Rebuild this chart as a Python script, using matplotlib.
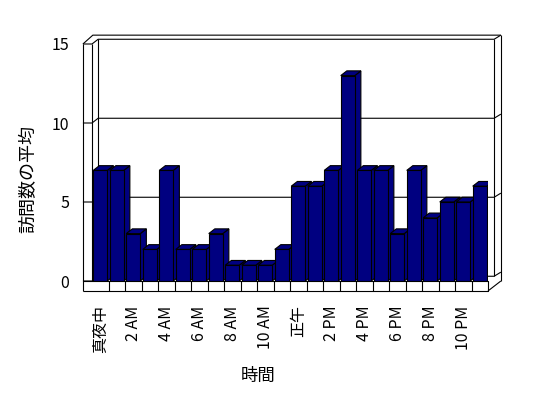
import numpy as np
import matplotlib
matplotlib.use("Agg")
import matplotlib.pyplot as plt
from matplotlib.patches import Polygon

plt.rcParams['font.family'] = ['Noto Sans CJK JP', 'DejaVu Sans']

# data
hours = ["真夜中", "1 AM", "2 AM", "3 AM", "4 AM", "5 AM", "6 AM", "7 AM",
         "8 AM", "9 AM", "10 AM", "11 AM", "正午", "1 PM", "2 PM", "3 PM",
         "4 PM", "5 PM", "6 PM", "7 PM", "8 PM", "9 PM", "10 PM", "11 PM"]
visits = [7, 7, 3, 2, 7, 2, 2, 3, 1, 1, 1, 2,
          6, 6, 7, 13, 7, 7, 3, 7, 4, 5, 5, 6]
y_ticks = [0, 5, 10, 15]

navy = "#000080"
lw = 0.8

fig = plt.figure(figsize=(5.48, 3.98), dpi=100)
ax = fig.add_axes([92/548, 1 - 281/398, 396/548, 237/398])
n = len(visits)
x = np.arange(n)
x0, x1 = -0.5, n - 0.5
ymax = y_ticks[-1]
ax.set_xlim(x0, x1)
ax.set_ylim(0, ymax)

# 3d depth offsets (data units)
dx, dy = 0.37, 0.3       # inner depth
dx2, dy2 = 0.78, 0.56    # outer wall depth
xo = x0 - 0.55           # left wall outer edge
yb = -0.63               # floor front bottom

def line(xs, ys, z=1):
    ax.plot(xs, ys, color="black", lw=lw, clip_on=False, zorder=z,
            solid_capstyle="butt")

# walls + gridlines
line([xo, xo], [yb, ymax])
line([x0, x0], [0, ymax])
line([x0 + dx, x0 + dx], [dy, ymax + dy])
line([x1 + dx, x1 + dx], [dy, ymax + dy])
line([x1 + dx2, x1 + dx2], [0, ymax + dy2])
line([xo, x0 + 0.05, x1 + dx2], [ymax, ymax + dy2, ymax + dy2])
for v in y_ticks:
    line([xo, x0, x0 + dx, x1 + dx, x1 + dx2],
         [v, v, v + dy, v + dy, v + dy2])

# floor
line([xo, x1, x1, xo], [yb, yb, 0, 0], z=2)
line([x1, x1 + dx2], [yb, 0], z=2)
for b in x[1:] - 0.5:
    line([b, b], [yb, 0], z=2)

# bars with side and top faces
h = 0.425
bars = ax.bar(x, visits, width=2 * h, color=navy, edgecolor="black",
              linewidth=lw)
for i, (xi, v) in enumerate(zip(x, visits)):
    side = Polygon([(xi + h, 0), (xi + h + dx, dy), (xi + h + dx, v + dy),
                    (xi + h, v)], closed=True, facecolor=navy,
                   edgecolor="black", lw=lw, zorder=3 + 2 * i)
    top = Polygon([(xi - h, v), (xi - h + dx, v + dy), (xi + h + dx, v + dy),
                   (xi + h, v)], closed=True, facecolor=navy,
                  edgecolor="black", lw=lw, zorder=3 + 2 * i)
    ax.add_patch(side)
    ax.add_patch(top)
    bars[i].set_zorder(4 + 2 * i)

for s in ax.spines.values():
    s.set_visible(False)

ax.set_yticks(y_ticks)
ax.set_yticklabels([str(t) for t in y_ticks], fontsize=11.5)
ax.set_xticks(x[::2])
ax.set_xticklabels(hours[::2], rotation=90, fontsize=11.5)
ax.tick_params(axis="y", length=0, pad=16.5)
ax.tick_params(axis="x", length=0, pad=17.5)

ax.set_xlabel("時間", fontsize=12.5)
ax.xaxis.set_label_coords(0.42, -0.40)
ax.xaxis.label.set_va("center")
ax.set_ylabel("訪問数の平均", fontsize=13)
ax.yaxis.set_label_coords(-0.16, 0.43)
ax.yaxis.label.set_va("center")

fig.savefig("out.png", dpi=100)
